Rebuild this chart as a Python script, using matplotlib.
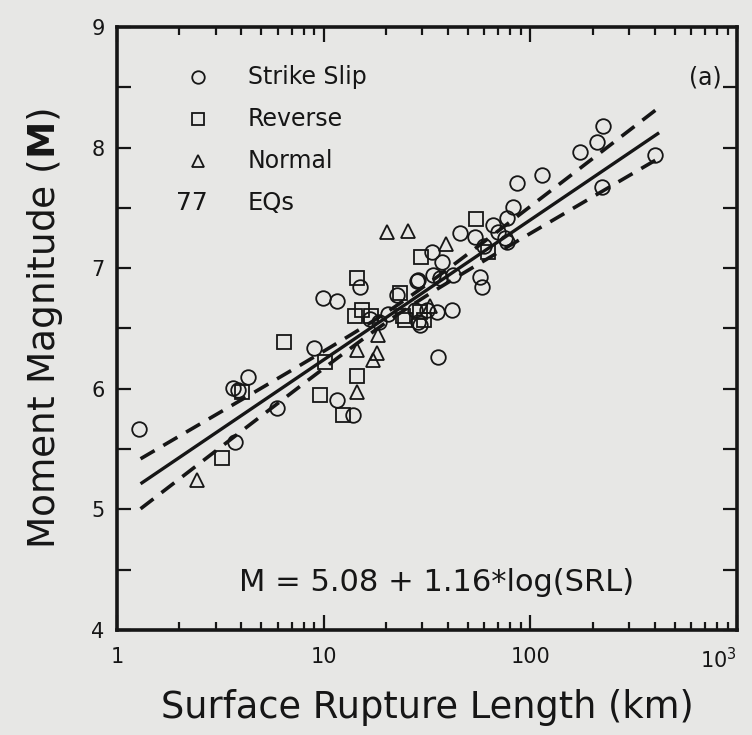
import numpy as np
import matplotlib
matplotlib.use("Agg")
import matplotlib.pyplot as plt
from matplotlib.ticker import LogLocator, FixedLocator, NullFormatter

# ---- data ----
ss_srl = [1.28, 3.64, 3.85, 4.30, 3.72, 5.94, 8.97, 9.93, 11.6, 11.6, 13.9, 15.0,
          35.7, 28.6, 35.3, 41.8, 28.6, 33.4, 45.6, 57.0, 58.3, 65.9, 82.5, 77.1,
          37.4, 42.2, 86.1, 114, 174, 210, 224, 401, 222, 54.0, 75.4, 77.0,
          28.3, 27.7, 31.6, 22.6, 33.8, 29.2, 16.8, 18.5, 20.5, 36.5, 60.0, 70.0]
ss_m = [5.67, 6.01, 5.99, 6.10, 5.56, 5.84, 6.34, 6.75, 6.73, 5.91, 5.78, 6.84,
        6.26, 6.55, 6.64, 6.65, 6.90, 7.13, 7.29, 6.93, 6.84, 7.36, 7.51, 7.22,
        7.05, 6.94, 7.71, 7.77, 7.96, 8.05, 8.18, 7.94, 7.67, 7.26, 7.25, 7.42,
        6.89, 6.65, 6.65, 6.78, 6.94, 6.53, 6.58, 6.55, 6.62, 6.92, 7.18, 7.30]

rv_srl = [3.22, 4.03, 6.43, 9.6, 12.4, 14.5, 15.3, 14.2, 14.5, 24.2, 29.2, 23.4,
          29.6, 54.6, 62.4, 24.7, 10.2, 17.0, 30.5]
rv_m = [5.43, 5.97, 6.39, 5.95, 5.78, 6.92, 6.65, 6.60, 6.11, 6.60, 6.64, 6.79,
        7.09, 7.41, 7.13, 6.57, 6.22, 6.60, 6.57]

nm_srl = [2.44, 14.5, 18.3, 18.1, 17.3, 14.5, 20.2, 25.6, 39.1, 32.7]
nm_m = [5.24, 6.32, 6.45, 6.30, 6.24, 5.97, 7.30, 7.31, 7.20, 6.69]

fit_a, fit_b = 5.08, 1.16
fit_srl_range = [1.3, 420]
band_center_log = 1.36      # log10(SRL) where the confidence band is narrowest
band_half_center = 0.04
band_half_end = 0.21        # half width at the ends of the fitted range

xticks = [1, 10, 100, 1000]
xticklabels = ["1", "10", "100", r"$\mathregular{10^3}$"]
yticks = [4, 5, 6, 7, 8, 9]

# ---- figure ----
bg = "#e7e7e5"
plt.rcParams["font.family"] = ["DejaVu Sans"]
plt.rcParams["mathtext.fontset"] = "dejavusans"
fig = plt.figure(figsize=(7.52, 7.35), dpi=100, facecolor=bg)
ax = fig.add_axes([0.1556, 0.1429, 0.8244, 0.8204], facecolor=bg)

ax.set_xscale("log")
ax.set_xlim(1, 1000)
ax.set_ylim(4, 9)

ink = "#161616"
mk = dict(linestyle="none", markerfacecolor="none", markeredgecolor=ink,
          markeredgewidth=1.3)
ax.plot(ss_srl, ss_m, marker="o", markersize=10.5, **mk)
ax.plot(rv_srl, rv_m, marker="s", markersize=10.5, **mk)
ax.plot(nm_srl, nm_m, marker="^", markersize=10, **mk)

# regression line and confidence band
u = np.linspace(np.log10(fit_srl_range[0]), np.log10(fit_srl_range[1]), 200)
mfit = fit_a + fit_b * u
du_end = max(abs(u[0] - band_center_log), abs(u[-1] - band_center_log))
slope2 = (band_half_end**2 - band_half_center**2) / du_end**2
half = np.sqrt(band_half_center**2 + slope2 * (u - band_center_log) ** 2)
srl = 10 ** u
ax.plot(srl, mfit, color=ink, lw=2.4, solid_capstyle="butt")
ax.plot(srl, mfit + half, color=ink, lw=2.6, dashes=(4.5, 2.8))
ax.plot(srl, mfit - half, color=ink, lw=2.6, dashes=(4.5, 2.8))

# ticks
ax.xaxis.set_major_locator(FixedLocator(xticks))
ax.set_xticklabels(xticklabels)
ax.xaxis.set_minor_locator(LogLocator(base=10, subs=np.arange(2, 10)))
ax.xaxis.set_minor_formatter(NullFormatter())
ax.set_yticks(yticks)
ax.yaxis.set_minor_locator(FixedLocator(np.arange(4.5, 9, 1.0)))
ax.tick_params(which="both", direction="in", top=True, right=True,
               colors=ink, width=1.6)
ax.tick_params(axis="x", which="major", length=11, labelsize=15, pad=12)
ax.tick_params(axis="x", which="minor", length=6)
ax.tick_params(axis="y", which="major", length=10, labelsize=15, pad=9)
ax.tick_params(axis="y", which="minor", length=10)
last = ax.get_xticklabels()[-1]
last.set_horizontalalignment("right")
for s in ax.spines.values():
    s.set_linewidth(2.6)
    s.set_color(ink)

ax.set_xlabel("Surface Rupture Length (km)", fontsize=26.5, color=ink, labelpad=12)
ax.set_ylabel(r"Moment Magnitude ($\mathbf{M}$)", fontsize=27, color=ink, labelpad=19)

# legend-like annotations (axes fraction coordinates)
leg_items = [("o", "Strike Slip"), ("s", "Reverse"), ("^", "Normal")]
for i, (m, lab) in enumerate(leg_items):
    yy = 0.917 - i * 0.0695
    ax.plot([0.131], [yy], marker=m, markersize=9, transform=ax.transAxes,
            clip_on=False, **mk)
    ax.text(0.211, yy, lab, transform=ax.transAxes, fontsize=17,
            va="center", ha="left", color=ink)
ax.text(0.095, 0.917 - 3 * 0.0695, "77", transform=ax.transAxes, fontsize=18,
        va="center", ha="left", color=ink)
ax.text(0.211, 0.917 - 3 * 0.0695, "EQs", transform=ax.transAxes, fontsize=17.5,
        va="center", ha="left", color=ink)
ax.text(0.975, 0.917, "(a)", transform=ax.transAxes, fontsize=17,
        va="center", ha="right", color=ink)
ax.text(0.515, 0.078, "M = 5.08 + 1.16*log(SRL)", transform=ax.transAxes,
        fontsize=22, va="center", ha="center", color=ink)

fig.savefig("out.png", dpi=100, facecolor=bg)
